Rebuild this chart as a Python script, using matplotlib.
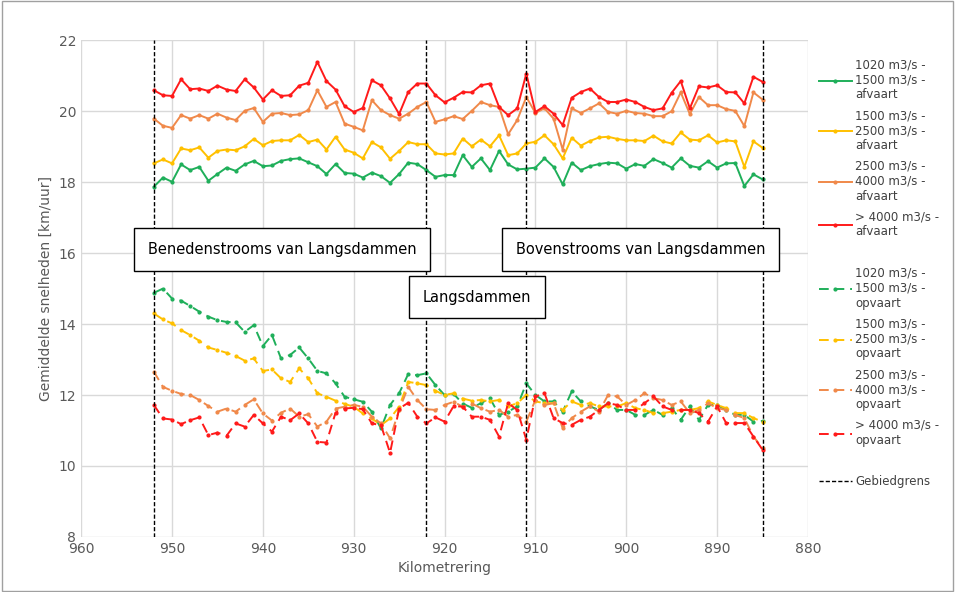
import matplotlib.pyplot as plt
import numpy as np

km = np.arange(952, 884, -1)

green_af = [17.87, 18.13, 18.01, 18.50, 18.34, 18.43, 18.04, 18.23, 18.41, 18.32, 18.50, 18.60, 18.45, 18.47, 18.60, 18.65, 18.67, 18.56, 18.45, 18.23, 18.51, 18.26, 18.24, 18.13, 18.27, 18.17, 17.98, 18.23, 18.55, 18.51, 18.34,
            18.15, 18.20, 18.20, 18.76, 18.43, 18.67, 18.34, 18.88, 18.50, 18.36, 18.38,
            18.41, 18.67, 18.43, 17.94, 18.55, 18.34, 18.45, 18.51, 18.55, 18.53, 18.38, 18.51, 18.46, 18.65, 18.54, 18.41, 18.67, 18.46, 18.41, 18.59, 18.41, 18.53, 18.54, 17.89, 18.22, 18.08]
yellow_af = [18.53, 18.64, 18.53, 18.95, 18.90, 18.98, 18.69, 18.88, 18.92, 18.90, 19.01, 19.22, 19.04, 19.16, 19.18, 19.18, 19.33, 19.13, 19.20, 18.92, 19.28, 18.92, 18.83, 18.67, 19.13, 18.98, 18.66, 18.88, 19.13, 19.07, 19.07,
             18.81, 18.78, 18.81, 19.23, 19.01, 19.20, 19.01, 19.32, 18.76, 18.81, 19.09,
             19.14, 19.32, 19.07, 18.67, 19.25, 19.03, 19.16, 19.26, 19.28, 19.22, 19.18, 19.18, 19.16, 19.31, 19.15, 19.09, 19.40, 19.20, 19.18, 19.32, 19.12, 19.18, 19.15, 18.43, 19.15, 18.97]
orange_af = [19.79, 19.59, 19.53, 19.89, 19.79, 19.89, 19.79, 19.93, 19.82, 19.75, 20.01, 20.09, 19.70, 19.93, 19.95, 19.89, 19.91, 20.03, 20.59, 20.12, 20.26, 19.65, 19.56, 19.46, 20.31, 20.03, 19.89, 19.79, 19.93, 20.12, 20.26,
             19.70, 19.77, 19.86, 19.78, 20.01, 20.26, 20.17, 20.12, 19.35, 19.75, 20.40,
             19.95, 20.08, 19.79, 18.92, 20.08, 19.95, 20.08, 20.22, 19.98, 19.93, 20.01, 19.95, 19.93, 19.86, 19.86, 20.00, 20.53, 19.92, 20.40, 20.17, 20.17, 20.06, 20.01, 19.58, 20.53, 20.33]
red_af = [20.59, 20.45, 20.43, 20.90, 20.62, 20.64, 20.57, 20.72, 20.61, 20.57, 20.90, 20.67, 20.33, 20.59, 20.43, 20.45, 20.72, 20.80, 21.39, 20.85, 20.61, 20.14, 19.98, 20.09, 20.87, 20.73, 20.36, 19.92, 20.54, 20.78, 20.78,
          20.45, 20.25, 20.38, 20.54, 20.53, 20.73, 20.78, 20.12, 19.89, 20.08, 21.06,
          19.98, 20.14, 19.93, 19.61, 20.38, 20.54, 20.64, 20.40, 20.26, 20.26, 20.33, 20.26, 20.12, 20.03, 20.08, 20.52, 20.85, 20.08, 20.70, 20.67, 20.73, 20.54, 20.53, 20.22, 20.97, 20.83]

green_op = [14.88, 15.00, 14.72, 14.66, 14.51, 14.35, 14.21, 14.11, 14.06, 14.05, 13.78, 13.97, 13.38, 13.69, 13.03, 13.13, 13.34, 13.03, 12.68, 12.61, 12.33, 11.95, 11.88, 11.81, 11.53, 11.06, 11.72, 12.05, 12.59, 12.56, 12.61, 12.28, 12.00, 12.03, 11.76, 11.64,
            11.77, 11.91, 11.44, 11.53, 11.68, 12.33, 12.00, 11.82, 11.82, 11.53, 12.10, 11.82, 11.68, 11.58, 11.77, 11.58, 11.58, 11.44, 11.44, 11.58, 11.44, 11.63, 11.30, 11.68, 11.30, 11.72, 11.72, 11.58, 11.44, 11.44, 11.25, 11.27]
yellow_op = [14.30, 14.13, 14.02, 13.83, 13.69, 13.53, 13.34, 13.27, 13.19, 13.10, 12.97, 13.03, 12.68, 12.72, 12.47, 12.37, 12.75, 12.47, 12.05, 11.95, 11.84, 11.75, 11.67, 11.48, 11.34, 11.15, 11.34, 11.67, 12.37, 12.33, 12.28, 12.12, 12.00, 12.05, 11.90, 11.84,
             11.86, 11.82, 11.86, 11.68, 11.77, 12.00, 11.82, 11.77, 11.77, 11.58, 11.82, 11.72, 11.77, 11.68, 11.68, 11.68, 11.77, 11.63, 11.58, 11.49, 11.49, 11.53, 11.58, 11.58, 11.63, 11.82, 11.72, 11.63, 11.49, 11.49, 11.35, 11.25]
orange_op = [12.66, 12.23, 12.12, 12.03, 12.00, 11.86, 11.69, 11.53, 11.62, 11.53, 11.72, 11.88, 11.48, 11.28, 11.50, 11.62, 11.39, 11.46, 11.11, 11.25, 11.62, 11.67, 11.72, 11.67, 11.39, 11.20, 10.78, 11.58, 12.23, 11.86, 11.60, 11.58, 11.72, 11.81, 11.67, 11.76,
             11.63, 11.53, 11.58, 11.39, 11.44, 11.25, 11.86, 11.72, 11.77, 11.07, 11.35, 11.53, 11.68, 11.53, 12.00, 11.96, 11.72, 11.86, 12.05, 11.91, 11.86, 11.72, 11.82, 11.49, 11.58, 11.77, 11.63, 11.58, 11.44, 11.35, 10.83, 10.50]
red_op = [11.72, 11.34, 11.31, 11.18, 11.29, 11.37, 10.87, 10.94, 10.85, 11.20, 11.11, 11.44, 11.20, 10.97, 11.39, 11.29, 11.48, 11.20, 10.68, 10.66, 11.50, 11.62, 11.64, 11.60, 11.20, 11.15, 10.37, 11.62, 11.78, 11.39, 11.20, 11.37, 11.25, 11.69, 11.67, 11.39,
          11.39, 11.30, 10.83, 11.77, 11.58, 10.74, 11.96, 12.05, 11.35, 11.21, 11.16, 11.30, 11.39, 11.58, 11.77, 11.72, 11.58, 11.58, 11.77, 11.96, 11.68, 11.58, 11.58, 11.58, 11.49, 11.25, 11.68, 11.21, 11.21, 11.21, 10.83, 10.46]

boundaries = [952, 922, 911, 885]
colors = ["#1FAF5A", "#FFC000", "#F0894A", "#FF1A1A"]
classes = ["1020 m3/s -\n1500 m3/s -", "1500 m3/s -\n2500 m3/s -",
           "2500 m3/s -\n4000 m3/s -", "> 4000 m3/s -"]

fig = plt.figure(figsize=(9.55, 5.92), dpi=100)
ax = fig.add_axes([0.085, 0.093, 0.761, 0.839])

for series, c, lab in zip([green_af, yellow_af, orange_af, red_af], colors, classes):
    ax.plot(km, series, color=c, lw=1.4, marker="o", ms=2.0, label=lab + "\nafvaart")
ax.plot([], [], color="none", label=" ")
for series, c, lab in zip([green_op, yellow_op, orange_op, red_op], colors, classes):
    ax.plot(km, series, color=c, lw=1.4, ls=(0, (5, 3)), marker="o", ms=2.0, label=lab + "\nopvaart")
ax.plot([], [], color="none", label=" ")
for i, b in enumerate(boundaries):
    ax.axvline(b, color="black", lw=1, ls=(0, (3, 1.5)), label="Gebiedgrens" if i == 0 else None)

ax.set_xlim(960, 880)
ax.set_ylim(8, 22)
ax.set_xticks(np.arange(960, 879, -10))
ax.set_yticks(np.arange(8, 23, 2))
ax.grid(True, color="#d9d9d9", lw=1)
ax.set_axisbelow(True)
for s in ax.spines.values():
    s.set_visible(False)
ax.tick_params(length=0, labelsize=10, colors="#595959")
ax.set_xlabel("Kilometrering", color="#595959", fontsize=10)
ax.set_ylabel("Gemiddelde snelheden [km/uur]", color="#595959", fontsize=10)

box = dict(boxstyle="square,pad=0.95", fc="white", ec="black", lw=1)
ax.text(937.9, 16.1, "Benedenstrooms van Langsdammen", ha="center", va="center", fontsize=10.5, bbox=box)
ax.text(916.4, 14.76, "Langsdammen", ha="center", va="center", fontsize=10.5, bbox=box)
ax.text(898.4, 16.1, "Bovenstrooms van Langsdammen", ha="center", va="center", fontsize=10.5, bbox=box)

ax.legend(loc="upper left", bbox_to_anchor=(1.0, 0.985), frameon=False, fontsize=8.5,
          labelcolor="#404040", handlelength=2.8, handletextpad=0.3, labelspacing=0.65)

fig.patches.append(plt.Rectangle((0.002, 0.002), 0.996, 0.996, transform=fig.transFigure,
                                 fill=False, ec="#a0a0a0", lw=1))
fig.savefig("out.png", dpi=100)
